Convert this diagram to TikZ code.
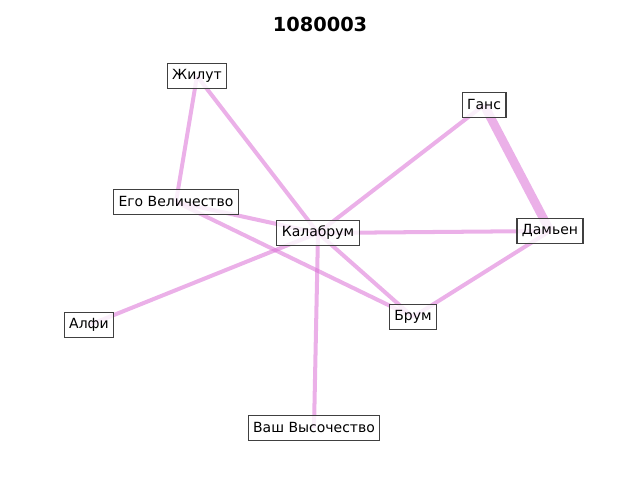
\documentclass[tikz,border=0pt]{standalone}
\usepackage{fontspec}
\setmainfont{DejaVu Sans}
\usepackage{xcolor}
\usepackage{tikz}
\usetikzlibrary{positioning, backgrounds}
\definecolor{liencol}{RGB}{218,112,214}
\tikzset{
	x=0.01in, y=-0.01in, % one unit is one pixel of the picture
	perso/.style={draw=black!75, fill=white, fill opacity=0.8, text opacity=1, line width=0.8pt, inner xsep=3.6pt, minimum height=18.5pt, font=\fontsize{10.1}{12}\selectfont}, % sets the properties for each name box
	lien/.style={draw=liencol, draw opacity=0.55, line width=2.9pt}, % a link between two names
	fort/.style={lien, line width=6.4pt}, % a heavier link
}
\begin{document}
\begin{tikzpicture}
			\useasboundingbox (0,0) rectangle (640,480);
			% Titre
			\node[font=\bfseries\fontsize{14}{16}\selectfont] (titre) at (320,24) {1080003};
			
			% Personnages
			\node[perso] (zhilut) at (197,76) {Жилут};
			\node[perso] (gans) at (484,105) {Ганс};
			\node[perso] (ego) at (176,202) {Его Величество};
			\node[perso] (kalabrum) at (318,233) {Калабрум};
			\node[perso] (damien) at (550,231) {Дамьен};
			\node[perso] (alfi) at (89,325) {Алфи};
			\node[perso] (brum) at (413,317) {Брум};
			\node[perso] (vash) at (314,428) {Ваш Высочество};
			
			% Liens
			\begin{scope}[on background layer]
			\path
			(zhilut.center) edge[lien] (ego.center)
			(zhilut.center) edge[lien] (kalabrum.center)
			(ego.center) edge[lien] (kalabrum.center)
			(ego.center) edge[lien] (brum.center)
			(alfi.center) edge[lien] (kalabrum.center)
			(gans.center) edge[lien] (kalabrum.center)
			(kalabrum.center) edge[lien] (damien.center)
			(kalabrum.center) edge[lien] (brum.center)
			(kalabrum.center) edge[lien] (vash.center)
			(damien.center) edge[lien] (brum.center)
			(gans.center) edge[fort] (damien.center);
			\end{scope}
		\end{tikzpicture}
\end{document}
